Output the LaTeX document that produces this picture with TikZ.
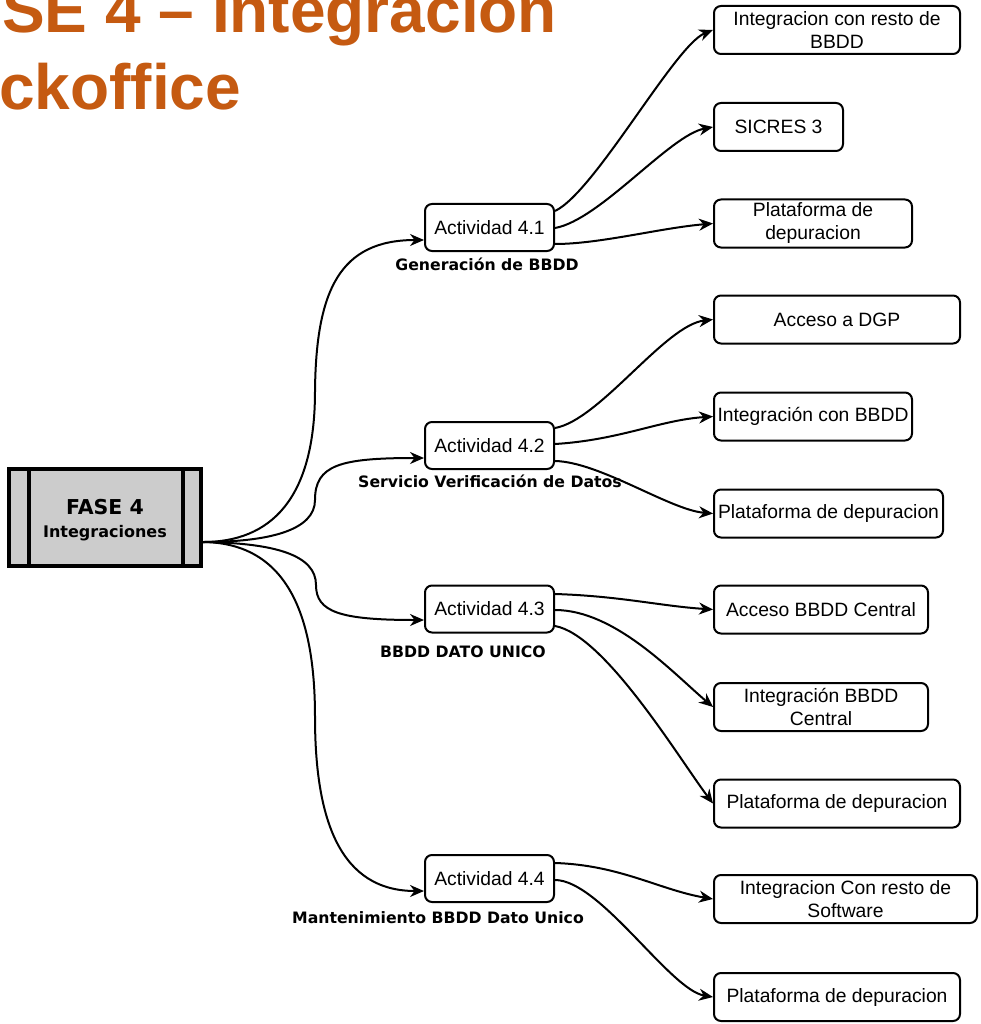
\documentclass[tikz,border=0pt]{standalone}
\usepackage{fontspec}
\setmainfont{Liberation Sans}
\newfontfamily\lblfont{DejaVu Sans}
\usetikzlibrary{arrows.meta,calc}
\definecolor{titleorange}{HTML}{C55A11}
\definecolor{phasegray}{HTML}{CCCCCC}

\begin{document}
\begin{tikzpicture}[x=1pt,y=-1pt,
  box/.style={draw, line width=2pt, rounded corners=7pt, minimum height=48pt,
              inner sep=0pt, align=center, font=\fontsize{19.3}{23}\selectfont},
  act/.style={box, minimum width=129pt, minimum height=47pt},
  phase/.style={draw, line width=4pt, fill=phasegray, minimum width=192pt,
                minimum height=97pt, inner sep=0pt, align=center,
                font=\lblfont\bfseries\fontsize{20.5}{23}\selectfont},
  sub/.style={anchor=base, inner sep=0pt, font=\lblfont\bfseries\fontsize{15.7}{18}\selectfont},
  heading/.style={anchor=base west, inner sep=0pt, text=titleorange,
                  font=\bfseries\fontsize{64}{77}\selectfont},
  conn/.style={line width=2pt, -{Stealth[length=14pt,width=12pt,inset=4.5pt]}}]

\useasboundingbox (0,0) rectangle (980,1024);

% heading
\node[heading] (t1) at (2,33) {SE 4 – Integracion};
\node[heading] (t2) at (-1,110) {ckoffice};

% phase block
\node[phase] (fase) at (105,517.5) {};
\node[align=center, inner sep=0pt, font=\lblfont\bfseries\fontsize{20.5}{23}\selectfont]
  (fasetext) at ([yshift=-2.5pt]fase.center)
  {FASE 4\\{\fontsize{16}{18}\selectfont Integraciones}};
\draw[line width=4pt] ($(fase.north west)+(22,2)$) -- ($(fase.south west)+(22,-2)$);
\draw[line width=4pt] ($(fase.north east)+(-20,2)$) -- ($(fase.south east)+(-20,-2)$);

% activities
\node[act] (a41) at (489.5,227.5) {Actividad 4.1};
\node[act] (a42) at (489.5,445.5) {Actividad 4.2};
\node[act] (a43) at (489.5,609)   {Actividad 4.3};
\node[act] (a44) at (489.5,878.5) {Actividad 4.4};

\node[sub] (lg) at (487,270) {Generación de BBDD};
\node[sub] (ls) at (490,487)   {Servicio Verificación de Datos};
\node[sub] (lb) at (463,657)   {BBDD DATO UNICO};
\node[sub] (lm) at (438,923)   {Mantenimiento BBDD Dato Unico};

% tasks
\node[box, minimum width=246pt] (r1)  at (837,30)    {Integracion con resto de\\BBDD};
\node[box, minimum width=129pt] (r2)  at (778.5,127) {SICRES 3};
\node[box, minimum width=198pt] (r3)  at (813,223.5) {Plataforma de\\depuracion};
\node[box, minimum width=246pt] (r4)  at (837,319.5) {Acceso a DGP};
\node[box, minimum width=198pt] (r5)  at (813,416.5) {Integración con BBDD};
\node[box, minimum width=229pt] (r6)  at (828.5,513.5) {Plataforma de depuracion};
\node[box, minimum width=214pt] (r7)  at (821,609.5) {Acceso BBDD Central};
\node[box, minimum width=214pt] (r8)  at (821,707)   {Integración BBDD\\Central};
\node[box, minimum width=246pt] (r9)  at (837,803.5) {Plataforma de depuracion};
\node[box, minimum width=263pt] (r10) at (845.5,899) {Integracion Con resto de\\Software};
\node[box, minimum width=246pt] (r11) at (837,997)   {Plataforma de depuracion};

% phase to activities
\draw[conn] ([yshift=-24.5pt]fase.east) .. controls (270,542) and (315,500) .. (315,391)
            .. controls (316,290) and (340,240) .. ([yshift=-12.5pt]a41.west);
\draw[conn] ([yshift=-24.5pt]fase.east) .. controls (270,542) and (315,530) .. (315,500)
            .. controls (315,465) and (340,458) .. ([yshift=-12.5pt]a42.west);
\draw[conn] ([yshift=-24.5pt]fase.east) .. controls (275,543) and (316,555) .. (316,585)
            .. controls (316,612) and (340,620) .. ([yshift=-11pt]a43.west);
\draw[conn] ([yshift=-24.5pt]fase.east) .. controls (290,543) and (315,620) .. (315,717)
            .. controls (315,820) and (340,891) .. ([yshift=-12.5pt]a44.west);

% activity 4.1
\draw[conn] ([yshift=16.5pt]a41.east)  .. controls (595,192) and (675,45)  .. (r1.west);
\draw[conn] ([yshift=-0.5pt]a41.east)  .. controls (600,220) and (670,135) .. (r2.west);
\draw[conn] ([yshift=-16.5pt]a41.east) .. controls (600,244) and (660,228) .. (r3.west);

% activity 4.2
\draw[conn] ([yshift=17.5pt]a42.east)  .. controls (600,420) and (665,325) .. (r4.west);
\draw[conn] ([yshift=1.5pt]a42.east)   .. controls (620,440) and (660,420) .. (r5.west);
\draw[conn] ([yshift=-15.5pt]a42.east) .. controls (600,462) and (670,510) .. (r6.west);

% activity 4.3
\draw[conn] ([yshift=15pt]a43.east)  .. controls (620,596) and (660,606) .. (r7.west);
\draw[conn] ([yshift=-1pt]a43.east)  .. controls (615,610) and (673,673) .. (r8.west);
\draw[conn] ([yshift=-17pt]a43.east) .. controls (605,635) and (680,760) .. (r9.west);

% activity 4.4
\draw[conn] ([yshift=15.5pt]a44.east) .. controls (620,865) and (660,890) .. (r10.west);
\draw[conn] ([yshift=-1.5pt]a44.east) .. controls (600,880) and (670,990) .. (r11.west);
\end{tikzpicture}
\end{document}
